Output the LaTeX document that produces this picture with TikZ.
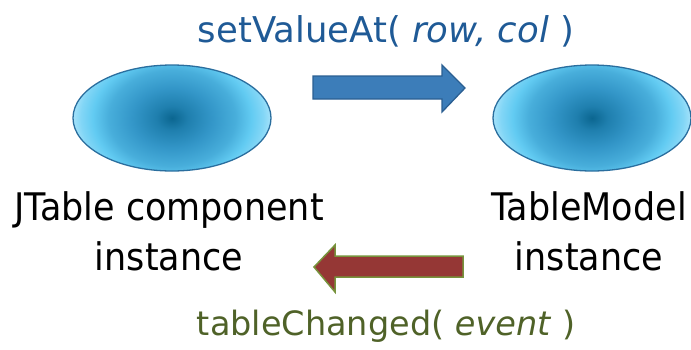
\documentclass[tikz,border=0pt]{standalone}
\usepackage{fontspec}
\setmainfont{DejaVu Sans}
\newfontfamily\capfont[FakeStretch=0.92]{DejaVu Sans}
\usetikzlibrary{shapes.geometric}

\definecolor{bdark}{HTML}{0B6690}
\definecolor{bmidA}{HTML}{1F7FAE}
\definecolor{bmidB}{HTML}{3396C8}
\definecolor{bmidC}{HTML}{48AEDB}
\definecolor{blight}{HTML}{62CBF2}
\definecolor{bpale}{HTML}{82D6F6}
\definecolor{bedge}{HTML}{A5E2FA}
\definecolor{blobline}{HTML}{2A6E9E}
\definecolor{callfill}{HTML}{3C7DB9}
\definecolor{callline}{HTML}{2B5F92}
\definecolor{eventfill}{HTML}{953735}
\definecolor{eventline}{HTML}{77933C}
\definecolor{calltext}{HTML}{1F5A96}
\definecolor{eventtext}{HTML}{4F6228}

% the inner 25bp of the shading is what covers the shaded path's box
\pgfdeclareradialshading{blobshade}{\pgfpoint{0bp}{0bp}}{%
  color(0bp)=(bdark); color(4bp)=(bmidA); color(10bp)=(bmidB);
  color(16bp)=(bmidC); color(20bp)=(blight); color(23bp)=(bpale);
  color(25bp)=(bedge); color(50bp)=(bedge)}

\tikzset{
  blob/.style={ellipse, minimum width=198pt, minimum height=106pt,
    draw=blobline, line width=1.3pt,
    path picture={\shade[shading=blobshade]
      ([shift={(-99pt,-75pt)}]path picture bounding box.center) rectangle
      ([shift={(99pt,75pt)}]path picture bounding box.center);}},
  captext/.style={font=\capfont\fontsize{38}{50}\selectfont, align=center,
    anchor=base, inner sep=0pt, text=black},
  msg/.style={anchor=base, inner sep=0pt},
  callarrow/.style={fill=callfill, draw=callline, line width=1.3pt, line join=miter},
  eventarrow/.style={fill=eventfill, draw=eventline, line width=1.5pt, line join=miter}
}

\begin{document}
\begin{tikzpicture}[x=1pt,y=-1pt]
  \useasboundingbox (0,0) rectangle (691,349);

  % the two objects
  \node[blob] (jtable) at (172,118) {};
  \node[blob] (model) at (592,118) {};

  % their captions (anchored on the baseline of the last line)
  \node[captext] (jtablecap) at (169,270) {JTable component\\instance};
  \node[captext] (modelcap) at (589,270) {TableModel\\instance};

  % call from the view to the model
  \draw[callarrow] (313,76) -- (442,76) -- (442,65) -- (465,88)
    -- (442,112) -- (442,99) -- (313,99) -- cycle;
  \node[msg, text=calltext, font=\fontsize{35.5}{40}\selectfont] (call) at (386,42)
    {setValueAt( \textit{row, col} )};

  % notification from the model back to the view
  \draw[eventarrow] (314,267) -- (335,245) -- (335,256) -- (463,256)
    -- (463,277) -- (335,277) -- (335,292) -- cycle;
  \node[msg, text=eventtext, font=\fontsize{33.5}{40}\selectfont] (event) at (386,335)
    {tableChanged( \textit{event} )};
\end{tikzpicture}
\end{document}
